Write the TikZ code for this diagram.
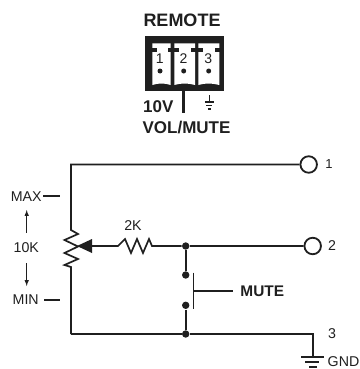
\documentclass[tikz,border=0pt]{standalone}
\usepackage{fontspec}
\setmainfont{Liberation Sans}
\tikzset{
  wire/.style={line width=1.7pt, color=black!88},
  thinwire/.style={line width=1.25pt, color=black!88},
  lbl/.style={inner sep=0pt, font=\fontsize{14.2}{16}\selectfont, color=black!88},
  boldlbl/.style={inner sep=0pt, font=\fontsize{17}{19}\selectfont\bfseries, color=black!88},
  pin/.style={inner sep=0pt, font=\fontsize{14}{16}\selectfont, color=black!88},
  jack/.style={circle, draw=black!88, line width=1.8pt, fill=white, inner sep=0pt, minimum size=16.5pt},
  junction/.style={circle, fill=black!88, inner sep=0pt, minimum size=7.4pt},
  pindot/.style={circle, fill=black!88, inner sep=0pt, minimum size=5pt},
  cell/.style={fill=white, draw=none},
}
\begin{document}
\begin{tikzpicture}[x=1pt, y=-1pt, line width = 1pt]
\useasboundingbox (0,0) rectangle (359,369);

% connector block
\node[boldlbl, font=\fontsize{18}{19}\selectfont\bfseries] (remote) at (182,20) {REMOTE};
\fill[black!88] (145,36.5) rectangle (224,90.5);

\fill[cell] (152.3,43.3) -- (170.7,43.3) -- (170.7,85) .. controls (165,83) and (158,83) .. (152.3,85) -- cycle;
\fill[cell] (174.3,43.3) -- (195,43.3) -- (195,85) .. controls (188,83) and (181,83) .. (174.3,85) -- cycle;
\fill[cell] (198.3,43.3) -- (219.3,43.3) -- (219.3,85) .. controls (212,83) and (205,83) .. (198.3,85) -- cycle;

\fill[black!88] (151,48.3) rectangle (157,51.7);
\fill[black!88] (168,48.3) rectangle (179,51.7);
\fill[black!88] (191,48.3) rectangle (203,51.7);
\fill[black!88] (215,48.3) rectangle (220,51.7);

\node[pin] (pin1) at (159.7,58.5) {1};
\node[pin] (pin2) at (183.5,58.5) {2};
\node[pin] (pin3) at (208.3,58.5) {3};
\node[pindot] (dot1) at (160,71) {};
\node[pindot] (dot2) at (183.7,71) {};
\node[pindot] (dot3) at (208.7,71) {};

\node[boldlbl] (tenv) at (158.3,106.7) {10V};
\node[boldlbl] (volmute) at (186.5,128) {VOL/MUTE};

\coordinate (tickA) at (183.3,90);
\coordinate (tickB) at (183.3,113);
\draw[black!88, line width=3.4pt] (tickA) -- (tickB);

% small ground
\coordinate (gndA) at (209.3,95);
\coordinate (gndB) at (209.3,102);
\draw[thinwire] (gndA) -- (gndB);
\draw[thinwire] (204.8,102) -- (213.8,102);
\draw[thinwire] (206.3,105.5) -- (212.3,105.5);
\draw[thinwire] (207.8,109) -- (210.8,109);

% terminals
\node[jack] (jack1) at (308.7,164.5) {};
\node[jack] (jack2) at (312.7,246) {};
\node[lbl, font=\fontsize{13}{15}\selectfont] (one) at (329,164) {1};
\node[lbl] (two) at (332,246) {2};
\node[lbl] (three) at (332,334) {3};
\node[lbl] (gndlbl) at (343.5,361.5) {GND};

% pot and top wire
\coordinate (pottop) at (71,230);
\coordinate (potbot) at (71,267);
\coordinate (topleft) at (71,165);
\coordinate (botleft) at (71,334);
\draw[wire] (jack1) -- (topleft |- jack1) -- (pottop)
  -- (78,234) -- (64.5,240) -- (78,246.5) -- (64.5,253) -- (78,259) -- (64.5,265) -- (potbot)
  -- (botleft);

% wiper and 2K
\coordinate (wipertip) at (77,246);
\coordinate (wiperbase) at (92,246);
\coordinate (resleft) at (118,246);
\coordinate (resright) at (152,246);
\node[junction] (jun2) at (185.7,246) {};
\node[junction] (jun3) at (185.7,334) {};
\fill[black!88] (wipertip) -- (92,239) -- (92,253) -- cycle;
\draw[wire] (wiperbase) -- (resleft)
  -- (125,239) -- (131,253) -- (137,239) -- (143,253) -- (149,239) -- (resright)
  -- (jun2) -- (jack2);
\node[lbl] (twok) at (133,226) {2K};

% mute switch
\node[junction] (contactA) at (185.7,275) {};
\node[junction] (contactB) at (185.7,305.3) {};
\draw[wire] (jun2) -- (contactA);
\draw[wire] (contactB) -- (jun3);
\coordinate (barA) at (193.3,272.7);
\coordinate (barB) at (193.3,309);
\coordinate (barM) at (193.3,291);
\coordinate (leverend) at (232.7,291);
\draw[thinwire] (barA) -- (barB);
\draw[thinwire] (barM) -- (leverend);
\node[lbl, font=\fontsize{15.4}{17}\selectfont\bfseries] (mute) at (262.3,291) {MUTE};

% bottom wire and ground
\coordinate (botright) at (312.7,334);
\coordinate (gndtop) at (312.7,357.3);
\draw[wire] (botleft) -- (jun3) -- (botright) -- (gndtop);
\draw[wire] (301,357.3) -- (324,357.3);
\draw[wire] (305,362) -- (319,362);
\draw[wire] (309,367) -- (317,367);

% left labels
\node[lbl] (maxlbl) at (26.3,196.5) {MAX};
\node[lbl] (minlbl) at (25.7,300) {MIN};
\node[lbl] (tenk) at (26.3,248) {10K};
\coordinate (maxdash) at (60,196);
\coordinate (mindash) at (60,300);
\draw[wire] (maxlbl.east) ++(1,-0.5) -- (maxdash);
\draw[wire] (minlbl.east) ++(5,0) -- (mindash);
\coordinate (upA) at (26.7,232.7);
\coordinate (upB) at (26.7,210);
\coordinate (downA) at (26.7,263);
\coordinate (downB) at (26.7,286);
\draw[-latex, thinwire, line width=1pt] (upA) -- (upB);
\draw[-latex, thinwire, line width=1pt] (downA) -- (downB);

\end{tikzpicture}
\end{document}
